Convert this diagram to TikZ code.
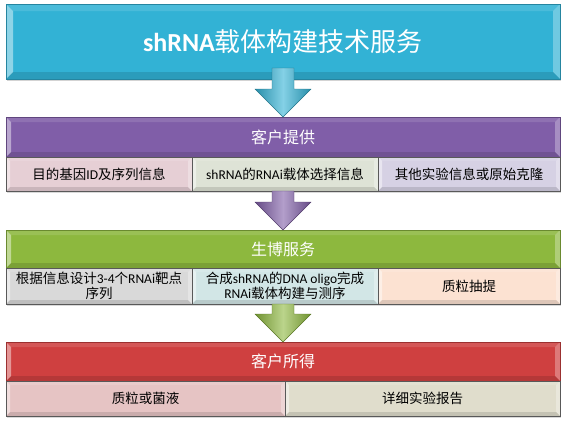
\documentclass[tikz,border=0pt]{standalone}
\usepackage{fontspec}
\setmainfont{Noto Sans CJK SC}
\newfontfamily\enfont{Carlito}
\usepackage{xcolor}
\usetikzlibrary{positioning,calc,shadows}

\definecolor{titleblue}{RGB}{50,178,213}
\definecolor{purpleh}{RGB}{128,94,168}
\definecolor{greenh}{RGB}{141,184,62}
\definecolor{redh}{RGB}{207,64,64}
\definecolor{subAa}{RGB}{230,207,213}
\definecolor{subAb}{RGB}{222,227,214}
\definecolor{subAc}{RGB}{214,209,228}
\definecolor{subBa}{RGB}{217,217,217}
\definecolor{subBb}{RGB}{210,230,230}
\definecolor{subBc}{RGB}{252,226,210}
\definecolor{subCa}{RGB}{230,196,196}
\definecolor{subCb}{RGB}{224,221,204}

% block arrow: #1 start, #2 tip node anchor, #3 colour, #4 overlap into start box
\newcommand{\flowarrow}[4]{%
  \path[left color=#3!80!black, right color=#3!80!black, middle color=#3!60!white,
        draw=#3!65!black, line width=.4pt]
    let \p1=(#1), \p2=(#2) in
    (\x2-11pt,\y1+#4) -- (\x2+11pt,\y1+#4) -- (\x2+11pt,\y2+28pt) -- (\x2+28pt,\y2+28pt)
    -- (\x2,\y2) -- (\x2-28pt,\y2+28pt) -- (\x2-11pt,\y2+28pt) -- cycle;}

\begin{document}
\begin{tikzpicture}[
  x=1pt, y=1pt,
  bevel/.style={path picture={
    \path (path picture bounding box.south west) coordinate (bvSW)
          (path picture bounding box.north east) coordinate (bvNE);
    \fill[white,opacity=.45] (bvSW) -- (bvSW|-bvNE) -- ++(#1,-#1) -- ($(bvSW)+(#1,#1)$) -- cycle;
    \fill[white,opacity=.3] (bvNE) -- (bvNE|-bvSW) -- ++(-#1,#1) -- ($(bvNE)+(-#1,-#1)$) -- cycle;
    \fill[black,opacity=.12] (bvSW) -- (bvNE|-bvSW) -- ++(-#1,#1) -- ($(bvSW)+(#1,#1)$) -- cycle;
    \fill[white,opacity=.12] (bvSW|-bvNE) -- (bvNE) -- ++(-#1,-#1) -- ($(bvSW|-bvNE)+(#1,-#1)$) -- cycle;
  }},
  head/.style={rectangle, draw=#1!75!black, fill=#1, minimum width=554pt, outer sep=0pt,
    text=white, font=\fontsize{16}{18}\selectfont, bevel=5,
    drop shadow={shadow xshift=1pt, shadow yshift=-1.5pt, opacity=.35}},
  sub/.style={rectangle, draw=black!65, fill=#1, outer sep=0pt, inner ysep=.5pt,
    align=center, font=\fontsize{13.5}{15.5}\selectfont, bevel=4,
    drop shadow={shadow xshift=1pt, shadow yshift=-1.5pt, opacity=.3}}
]
\useasboundingbox (0,0) rectangle (569,-426);

\node[head=titleblue, minimum height=75pt, font=\fontsize{26}{29}\selectfont, bevel=7]
  (title) at (283,-41.5) {{\enfont\bfseries shRNA}载体构建技术服务};

% customer input
\node[head=purpleh, minimum height=40pt] (hdA) at (283,-137) {客户提供};
\node[sub=subAa, minimum width=186pt, minimum height=34pt, anchor=north west]
  (a1) at (hdA.south west) {目的基因{\enfont ID}及序列信息};
\node[sub=subAb, minimum width=186pt, minimum height=34pt, right=0pt of a1]
  (a2) {{\enfont shRNA}的{\enfont RNAi}载体选择信息};
\node[sub=subAc, minimum width=182pt, minimum height=34pt, right=0pt of a2]
  (a3) {其他实验信息或原始克隆};

% service
\node[head=greenh, minimum height=38pt] (hdB) at (283,-249) {生博服务};
\node[sub=subBa, minimum width=186pt, minimum height=36pt, anchor=north west]
  (b1) at (hdB.south west) {根据信息设计{\enfont 3-4}个{\enfont RNAi}靶点\\序列};
\node[sub=subBb, minimum width=186pt, minimum height=36pt, right=0pt of b1]
  (b2) {合成{\enfont shRNA}的{\enfont DNA oligo}完成\\{\enfont RNAi}载体构建与测序};
\node[sub=subBc, minimum width=182pt, minimum height=36pt, right=0pt of b2]
  (b3) {质粒抽提};

% result
\node[head=redh, minimum height=39pt] (hdC) at (283,-361.5) {客户所得};
\node[sub=subCa, minimum width=279pt, minimum height=35pt, anchor=north west]
  (c1) at (hdC.south west) {质粒或菌液};
\node[sub=subCb, minimum width=275pt, minimum height=35pt, right=0pt of c1]
  (c2) {详细实验报告};

\flowarrow{title.south}{hdA.north}{titleblue}{11pt}
\flowarrow{a2.south}{hdB.north}{purpleh}{0pt}
\flowarrow{b2.south}{hdC.north}{greenh}{0pt}

\end{tikzpicture}
\end{document}
